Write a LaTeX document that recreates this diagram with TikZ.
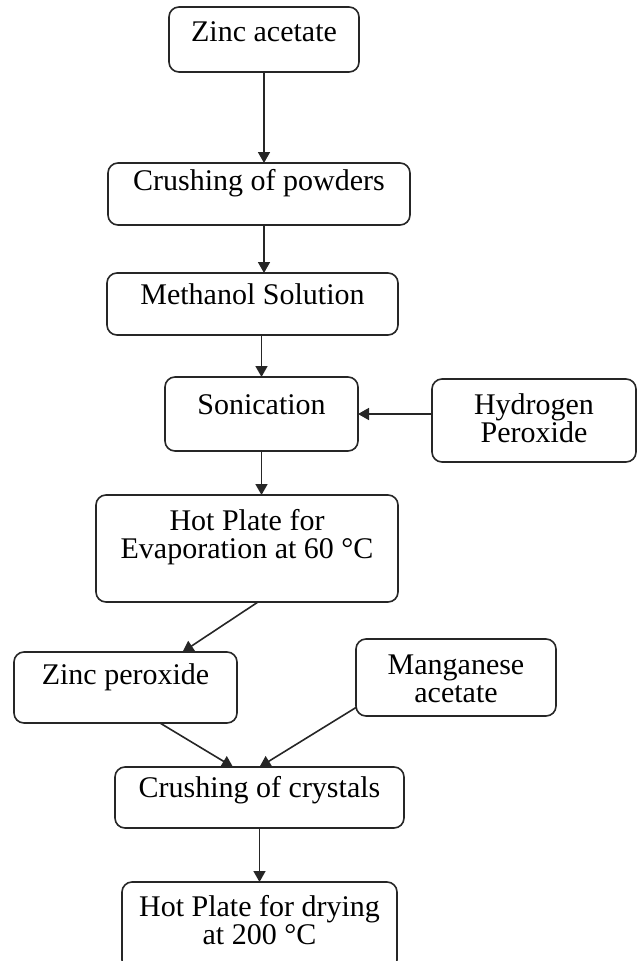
\documentclass[tikz,border=0pt]{standalone}
\usepackage{fontspec}
\setmainfont{Liberation Serif}
\usetikzlibrary{arrows.meta}
\tikzset{
  box/.style={draw=black!85, line width=1.6pt, rounded corners=10pt, inner sep=0pt, outer sep=0pt, fill=none},
  txt/.style={inner sep=0pt, align=center, font=\fontsize{30}{28}\selectfont},
  arr/.style={draw=black!85, line width=1.6pt, -{Triangle[length=11pt,width=12pt]}}
}
\begin{document}
\begin{tikzpicture}[x=1pt,y=-1pt]
\useasboundingbox (0,0) rectangle (638,961);
% boxes
\node[box, minimum width=190, minimum height=65] (za) at (264,39.5) {};
\node[txt] (zat) at (264,32) {Zinc acetate};
\node[box, minimum width=302, minimum height=62] (cp) at (259,194) {};
\node[txt] (cpt) at (259,183) {Crushing of powders};
\node[box, minimum width=291, minimum height=62] (ms) at (252.5,304) {};
\node[txt] (mst) at (252.5,294) {Methanol Solution};
\node[box, minimum width=193, minimum height=74] (so) at (261.5,414) {};
\node[txt] (sot) at (261.5,405) {Sonication};
\node[box, minimum width=204, minimum height=83] (hp) at (534,420.5) {};
\node[txt] (hpt) at (534,418.5) {Hydrogen\\Peroxide};
\node[box, minimum width=302, minimum height=107] (he) at (247,548.5) {};
\node[txt] (het) at (247,537.5) {Hot Plate for\\Evaporation at 60 °C};
\node[box, minimum width=223, minimum height=71] (zp) at (125.5,687.5) {};
\node[txt] (zpt) at (125.5,677) {Zinc peroxide};
\node[box, minimum width=200, minimum height=77] (ma) at (456,677.5) {};
\node[txt] (mat) at (456,678.5) {Manganese\\acetate};
\node[box, minimum width=289, minimum height=61] (cc) at (259.5,797.5) {};
\node[txt] (cct) at (259.5,790) {Crushing of crystals};
\node[box, minimum width=275, minimum height=88] (hd) at (259.5,926) {};
\node[txt] (hdt) at (259.5,920.5) {Hot Plate for drying\\at 200 °C};
% connectors
\draw[arr] (za.south) -- (za.south |- cp.north);
\draw[arr] (za.south |- cp.south) -- (za.south |- ms.north);
\draw[arr] (ms.south -| so.north) -- (so.north);
\draw[arr] (hp.west |- so.east) -- (so.east);
\draw[arr] (so.south) -- (so.south |- he.north);
\draw[arr] ([xshift=11pt]he.south) -- ([xshift=57pt]zp.north);
\draw[arr] ([xshift=34.5pt]zp.south) -- ([xshift=-26.5pt]cc.north);
\draw[arr] ([yshift=-30pt]ma.west) -- (cc.north);
\draw[arr] (cc.south) -- (hd.north);
\end{tikzpicture}
\end{document}
